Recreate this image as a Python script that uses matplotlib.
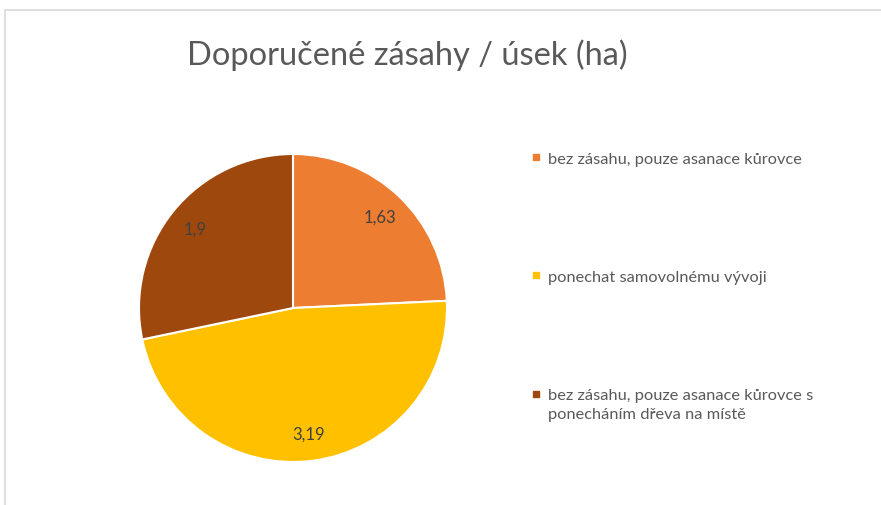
import matplotlib.pyplot as plt
from matplotlib.lines import Line2D
from matplotlib.patches import Rectangle
from matplotlib.legend_handler import HandlerLine2D

# data
categories = [
    'bez zásahu, pouze asanace kůrovce',
    'ponechat samovolnému vývoji',
    'bez zásahu, pouze asanace kůrovce s\nponecháním dřeva na místě',
]
values = [1.63, 3.19, 1.9]
value_labels = ['1,63', '3,19', '1,9']
colors = ['#ED7D31', '#FFC000', '#9E480E']

plt.rcParams['font.family'] = ['Lato', 'DejaVu Sans']

LEG_FS = 11.8


class TopLineMarker(HandlerLine2D):
    # put the marker next to the first line of a two-line label (like Excel does)
    def create_artists(self, legend, orig_handle, xdescent, ydescent, width, height,
                       fontsize, trans):
        arts = super().create_artists(legend, orig_handle, xdescent, ydescent, width,
                                      height, fontsize, trans)
        for a in arts:
            a.set_ydata([y + 0.64 * fontsize for y in a.get_ydata()])
        return arts


W, H = 881, 506
fig = plt.figure(figsize=(W / 100, H / 100), dpi=100)

# light frame of the chart area (top and left edges visible)
fig.add_artist(Rectangle((5 / W, -0.1), 1.2, 1.1 - 11 / H, transform=fig.transFigure,
                         fill=False, edgecolor='#D9D9D9', linewidth=1.2))

# pie axes: centre ~(293, 309) px, radius ~154 px
cx, cy, r = 293, 309, 154
ax = fig.add_axes([(cx - r) / W, (H - cy - r) / H, 2 * r / W, 2 * r / H])

wedges, texts = ax.pie(values, colors=colors, startangle=90, counterclock=False,
                       labels=value_labels, labeldistance=0.82,
                       wedgeprops=dict(edgecolor='white', linewidth=1.5))
for t in texts:
    t.set_ha('center')
    t.set_va('center')
    t.set_fontsize(12)
    t.set_color('#404040')
ax.set_xlim(-1, 1)
ax.set_ylim(-1, 1)
ax.set_aspect('equal')

fig.text(407 / W, 1 - 55 / H, 'Doporučené zásahy / úsek (ha)', ha='center', va='center',
         fontsize=23.5, color='#595959')

handles = [Line2D([], [], marker='s', linestyle='', markersize=4.5, color=c) for c in colors]
leg = fig.legend(handles, categories, loc='upper left', bbox_to_anchor=(523 / W, 1 - 144 / H),
                 frameon=False, fontsize=LEG_FS, labelcolor='#595959', labelspacing=6.33,
                 handlelength=0.55, handletextpad=0.45, borderpad=0,
                 handler_map={handles[2]: TopLineMarker()})
leg.get_texts()[2].set_linespacing(1.48)

fig.savefig('out.png', dpi=100)
